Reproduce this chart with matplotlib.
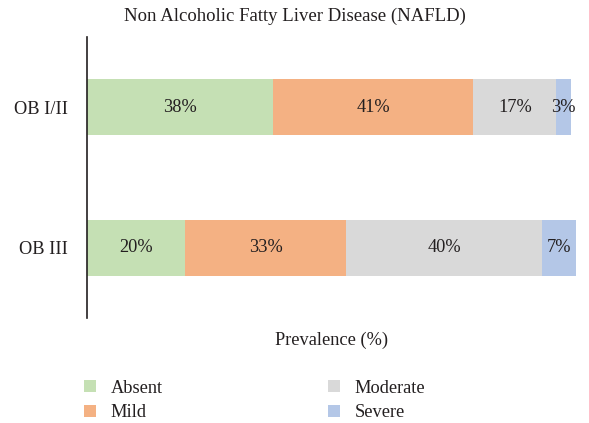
import matplotlib.pyplot as plt
from matplotlib.patches import Patch

plt.rcParams['font.family'] = ['Liberation Serif', 'DejaVu Serif']

# Prevalence of NAFLD grades (%) per obesity class
groups = ["OB I/II", "OB III"]
grades = ["Absent", "Mild", "Moderate", "Severe"]
absent = [38, 20]
mild = [41, 33]
moderate = [17, 40]
severe = [3, 7]

colors = ["#c5e0b4", "#f4b183", "#d9d9d9", "#b4c7e7"]
text_color = "#231f20"

fig = plt.figure(figsize=(5.89, 4.23), dpi=100)
ax = fig.add_axes([0.1477, 0.2482, 0.8302, 0.6643])

ypos = list(range(len(groups)))
left = [0] * len(groups)
handles = []
for vals, name, col in zip([absent, mild, moderate, severe], grades, colors):
  bars = ax.barh(ypos, vals, left=left, height=0.4, color=col, label=name)
  ax.bar_label(bars, labels=["{}%".format(v) for v in vals], label_type='center',
               fontsize=13.2, color=text_color)
  left = [l + v for l, v in zip(left, vals)]
  handles.append(Patch(facecolor=col, edgecolor='none', label=name))

ax.set_xlim(0, 100)
ax.set_ylim(1.5, -0.5)
ax.set_yticks(ypos)
ax.set_yticklabels(groups, fontsize=13.2, color=text_color)
ax.tick_params(axis='y', length=0, pad=13.5)
ax.set_xticks([])
for side in ["top", "right", "bottom"]:
  ax.spines[side].set_visible(False)
ax.spines["left"].set_color(text_color)
ax.spines["left"].set_linewidth(1.2)

# title sits over the whole figure, not just the axes
fig.text(0.5, 0.962, "Non Alcoholic Fatty Liver Disease (NAFLD)", ha='center',
         va='center', fontsize=13.5, color=text_color)
ax.set_xlabel("Prevalence (%)", fontsize=13.2, color=text_color, labelpad=10)

fig.legend(handles=handles, ncol=2, loc='lower left', bbox_to_anchor=(0.115, -0.035),
           frameon=False, fontsize=13.2, handlelength=0.65, handleheight=0.65,
           handletextpad=0.8, columnspacing=9.0, labelspacing=0.42,
           labelcolor=text_color)

fig.savefig("out.png", dpi=100)
